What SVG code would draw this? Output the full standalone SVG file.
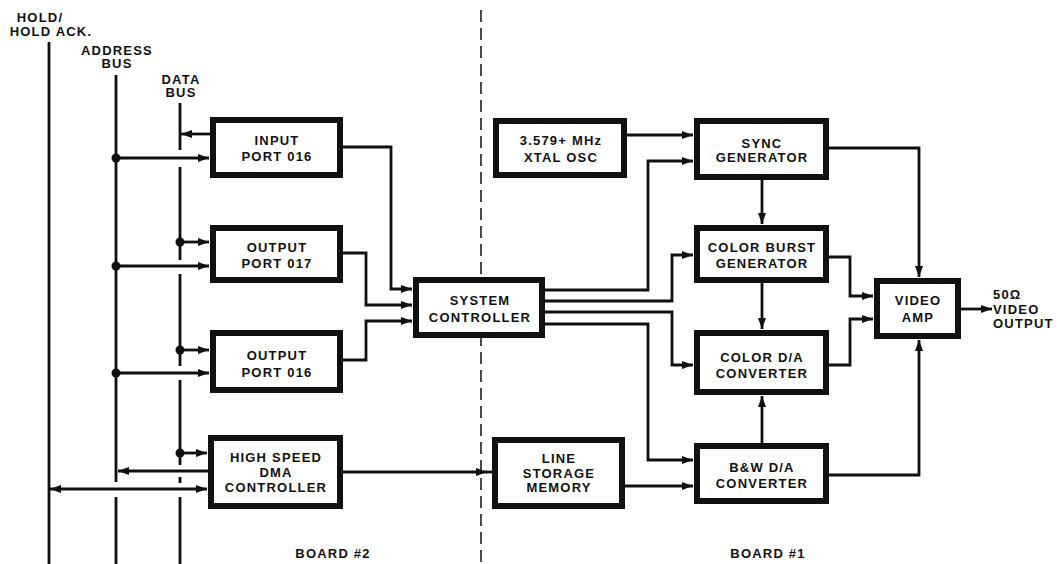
<svg xmlns="http://www.w3.org/2000/svg" width="1057" height="564" viewBox="0 0 1057 564">
<style>
text{font-family:"Liberation Sans",Arial,sans-serif;font-weight:bold;font-size:13px;letter-spacing:1.2px;fill:#111;text-anchor:middle}
.box rect{fill:#fff;stroke:#111;stroke-width:6}
.c path{fill:none;stroke:#111;stroke-width:2.8}
.a{marker-end:url(#ah)}
.bus{fill:none;stroke:#111;stroke-width:2.8}
.dot{fill:#111}
.lbl{text-anchor:start}
</style>
<defs>
<marker id="ah" markerUnits="userSpaceOnUse" markerWidth="11" markerHeight="8" refX="11" refY="4" orient="auto-start-reverse">
<path d="M0,0 L11,4 L0,8 z" fill="#111"/>
</marker>
</defs>
<rect width="1057" height="564" fill="#fff"/>

<g id="labels">
<text x="40" y="22">HOLD/</text>
<text x="51" y="36">HOLD ACK.</text>
<text x="117" y="55">ADDRESS</text>
<text x="117" y="68">BUS</text>
<text x="181" y="84">DATA</text>
<text x="181" y="97">BUS</text>
<text x="333" y="558" font-size="12">BOARD #2</text>
<text x="768" y="558" font-size="12">BOARD #1</text>
<text class="lbl" x="993" y="299">50Ω</text>
<text class="lbl" x="993" y="314">VIDEO</text>
<text class="lbl" x="993" y="328">OUTPUT</text>
</g>

<g id="divider">
<path d="M481,10 V564" stroke="#111" stroke-width="1.5" stroke-dasharray="12 6" fill="none"/>
</g>

<g id="buses">
<path class="bus" d="M49,42 V564"/>
<path class="bus" d="M116,75 V482 M116,497 V564"/>
<path class="bus" d="M180,103 V150 M180,167 V260 M180,274 V366 M180,380 V465 M180,477 V483 M180,497 V564"/>
</g>

<g id="connectors" class="c">
<path class="a" d="M210,134 H181"/>
<path class="a" d="M116,158 H209"/>
<path class="a" d="M180,242 H209"/>
<path class="a" d="M116,266 H209"/>
<path class="a" d="M180,350 H209"/>
<path class="a" d="M116,373 H209"/>
<path class="a" d="M180,453 H207"/>
<path class="a" d="M208,471 H118"/>
<path class="a" d="M50,489 H207" marker-start="url(#ah)"/>
<path class="a" d="M343,147 H391 V289 H412"/>
<path class="a" d="M343,253 H366 V305 H412"/>
<path class="a" d="M343,360 H366 V321 H412"/>
<path class="a" d="M343,472 H487"/>
<path d="M486,472 H492"/>
<path class="a" d="M627,135 H693"/>
<path class="a" d="M545,290 H648 V161 H693"/>
<path class="a" d="M545,301 H672 V255 H693"/>
<path class="a" d="M545,312 H672 V365 H693"/>
<path class="a" d="M545,324 H648 V460 H693"/>
<path class="a" d="M762,180 V224"/>
<path class="a" d="M829,148 H919 V277"/>
<path class="a" d="M829,257 H850 V296 H873"/>
<path class="a" d="M829,365 H850 V319 H873"/>
<path class="a" d="M762,283 V329"/>
<path class="a" d="M762,443 V396"/>
<path class="a" d="M829,475 H919 V340"/>
<path class="a" d="M625,486 H693"/>
<path class="a" d="M961,309 H992"/>
<circle class="dot" cx="116" cy="158" r="4.5"/>
<circle class="dot" cx="180" cy="242" r="4.5"/>
<circle class="dot" cx="116" cy="266" r="4.5"/>
<circle class="dot" cx="180" cy="350" r="4.5"/>
<circle class="dot" cx="116" cy="373" r="4.5"/>
<circle class="dot" cx="180" cy="453" r="4.5"/>
</g>

<g id="input-port-016" class="box"><rect x="213" y="120" width="127" height="55"/><text x="277" y="145">INPUT</text><text x="277" y="161">PORT 016</text></g>
<g id="output-port-017" class="box"><rect x="213" y="228" width="127" height="52"/><text x="277" y="252">OUTPUT</text><text x="277" y="268">PORT 017</text></g>
<g id="output-port-016" class="box"><rect x="213" y="333" width="127" height="57"/><text x="277" y="360">OUTPUT</text><text x="277" y="377">PORT 016</text></g>
<g id="dma-controller" class="box"><rect x="211" y="438" width="129" height="68"/><text x="276" y="462">HIGH SPEED</text><text x="276" y="477">DMA</text><text x="276" y="492">CONTROLLER</text></g>
<g id="system-controller" class="box"><rect x="416" y="280" width="126" height="55"/><text x="480" y="305">SYSTEM</text><text x="480" y="322">CONTROLLER</text></g>
<g id="xtal-osc" class="box"><rect x="496" y="121" width="128" height="54"/><text x="561" y="145">3.579+ MHz</text><text x="561" y="162">XTAL OSC</text></g>
<g id="line-storage-memory" class="box"><rect x="495" y="440" width="127" height="66"/><text x="559" y="463">LINE</text><text x="559" y="478">STORAGE</text><text x="559" y="492">MEMORY</text></g>
<g id="sync-generator" class="box"><rect x="697" y="121" width="129" height="56"/><text x="762" y="148">SYNC</text><text x="762" y="162">GENERATOR</text></g>
<g id="color-burst-generator" class="box"><rect x="697" y="228" width="129" height="52"/><text x="762" y="252">COLOR BURST</text><text x="762" y="268">GENERATOR</text></g>
<g id="color-da-converter" class="box"><rect x="697" y="333" width="129" height="59"/><text x="762" y="362">COLOR D/A</text><text x="762" y="378">CONVERTER</text></g>
<g id="bw-da-converter" class="box"><rect x="697" y="446" width="129" height="55"/><text x="762" y="472">B&amp;W D/A</text><text x="762" y="488">CONVERTER</text></g>
<g id="video-amp" class="box"><rect x="877" y="281" width="81" height="55"/><text x="918" y="305">VIDEO</text><text x="918" y="322">AMP</text></g>
</svg>
